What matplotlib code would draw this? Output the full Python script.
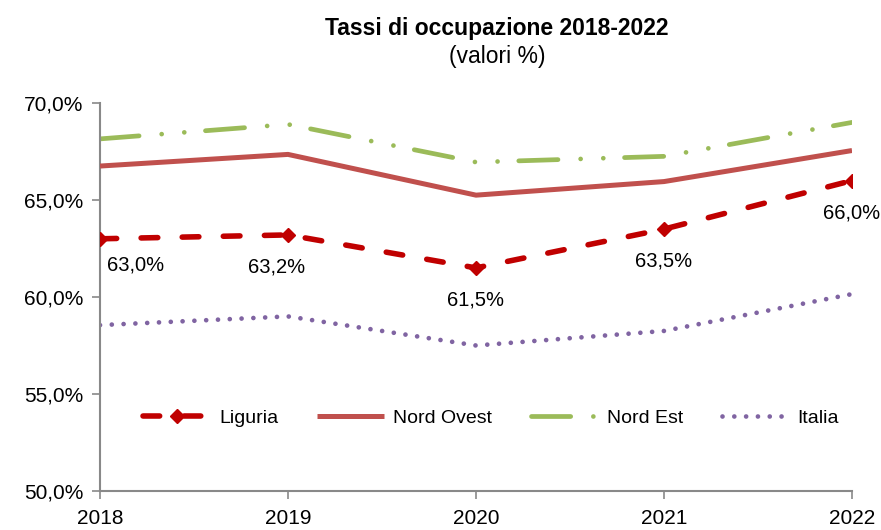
import matplotlib.pyplot as plt

plt.rcParams['font.family'] = ['Liberation Sans', 'DejaVu Sans']

anni = [2018, 2019, 2020, 2021, 2022]
liguria = [63.0, 63.2, 61.5, 63.5, 66.0]
nord_ovest = [66.75, 67.35, 65.25, 65.95, 67.55]
nord_est = [68.15, 68.9, 66.95, 67.25, 69.0]
italia = [58.55, 59.0, 57.5, 58.25, 60.15]
etichette = ['63,0%', '63,2%', '61,5%', '63,5%', '66,0%']
yticks = [50, 55, 60, 65, 70]
ytick_labels = ['50,0%', '55,0%', '60,0%', '65,0%', '70,0%']

fig = plt.figure(figsize=(8.81, 5.30), dpi=100)
ax = fig.add_axes([100/881, 1-491/530, 752/881, 388/530])

ax.plot(anni, liguria, color='#C00000', lw=4, dashes=(3.0, 4.4), dash_capstyle='round',
        marker='D', markersize=7.5, label='Liguria', zorder=4)
ax.plot(anni, nord_ovest, color='#C0504D', lw=3.6, solid_capstyle='butt', label='Nord Ovest', zorder=3)
ax.plot(anni, nord_est, color='#9BBB59', lw=3.4, dashes=(8.3, 4.8, 0.001, 4.8, 0.001, 4.5),
        dash_capstyle='round', label='Nord Est', zorder=2)
ax.plot(anni, italia, color='#8064A2', lw=3.4, dashes=(0.001, 2.5), dash_capstyle='round',
        label='Italia', zorder=2)

# etichette dati Liguria, sotto i punti
for i, (x, y) in enumerate(zip(anni, liguria)):
    ha = 'left' if i == 0 else 'center'
    dx = 5 if i == 0 else (-8 if i == 1 else 0)
    dy = -19 if i == 0 else -23
    ax.annotate(etichette[i], (x, y), xytext=(dx, dy), textcoords='offset points',
                ha=ha, va='center', fontsize=14.5)

ax.set_xlim(2018, 2022)
ax.set_ylim(50, 70)
ax.set_xticks(anni)
ax.set_xticklabels([str(a) for a in anni])
ax.set_yticks(yticks)
ax.set_yticklabels(ytick_labels)
ax.tick_params(axis='both', direction='out', length=6, width=1.2, color='#898989',
               labelsize=15, labelcolor='black')
ax.tick_params(axis='x', pad=7)
ax.tick_params(axis='y', pad=6)
for s in ['top', 'right']:
    ax.spines[s].set_visible(False)
for s in ['left', 'bottom']:
    ax.spines[s].set_color('#898989')
    ax.spines[s].set_linewidth(1.5)
for lab in ax.get_xticklabels():
    lab.set_clip_on(False)

ax.legend(loc='center', bbox_to_anchor=(0.52, 0.188), ncol=4, frameon=False, fontsize=14,
          handlelength=3.45, handletextpad=0.45, columnspacing=2.0)

fig.text(0.564, 0.947, 'Tassi di occupazione 2018-2022', ha='center', va='center',
         fontsize=16.5, fontweight='bold')
fig.text(0.564, 0.893, '(valori %)', ha='center', va='center', fontsize=16.5)

fig.savefig('out.png', dpi=100)
